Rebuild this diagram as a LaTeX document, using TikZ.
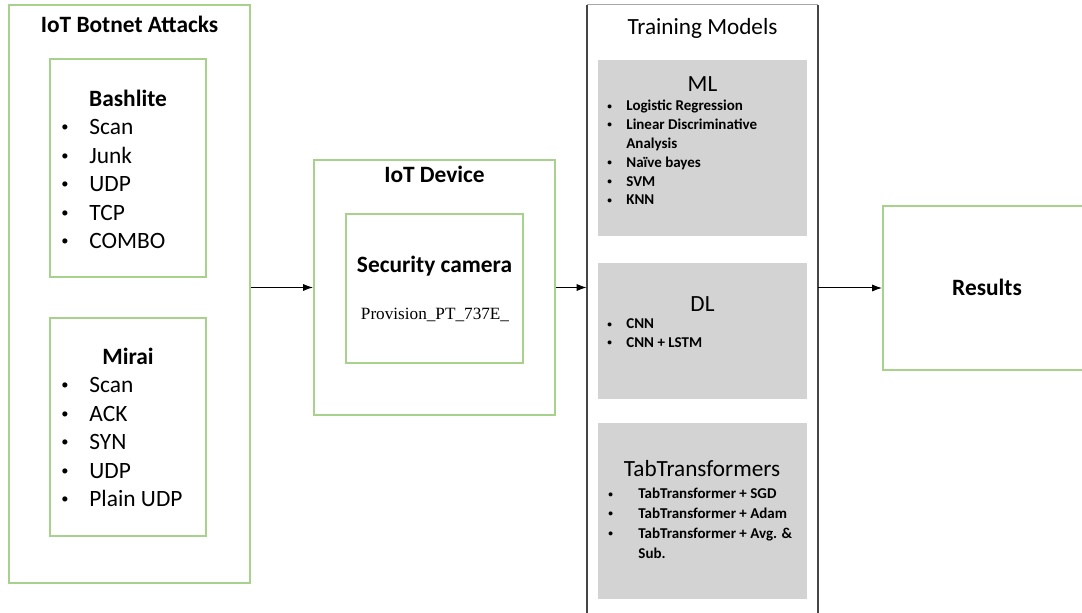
\documentclass[tikz,border=0pt]{standalone}
\usepackage{fontspec}
\setmainfont{Carlito}
\newfontfamily\provfont{Liberation Serif}
\usetikzlibrary{arrows.meta,fit}
\tikzset{>={Latex[length=5pt,width=3.6pt]}}
\definecolor{boxgreen}{HTML}{A9D18E}
\definecolor{modelgray}{HTML}{D3D3D3}
\definecolor{framedark}{HTML}{454545}
\definecolor{framelight}{HTML}{A6A6A6}
\newcommand{\dotmark}{\raisebox{0.13em}{\scalebox{0.62}{\textbullet}}}

\begin{document}
\begin{tikzpicture}[x=0.5pt,y=-0.5pt,
  greenbox/.style={draw=boxgreen,line width=1pt,inner sep=0pt},
  graybox/.style={fill=modelgray,inner sep=0pt},
  head/.style={font=\fontsize{11.7}{14}\selectfont\bfseries,anchor=base,inner sep=0pt},
  modelhead/.style={font=\fontsize{11.6}{14}\selectfont,anchor=base,inner sep=0pt},
  biglist/.style={font=\fontsize{11.7}{14.2}\selectfont,anchor=base west,inner sep=0pt},
  smalllist/.style={font=\fontsize{7.5}{9.4}\selectfont\bfseries,anchor=base west,inner sep=0pt},
  link/.style={->,line width=0.5pt}]
\useasboundingbox (0,0) rectangle (1082,613);

% attacks
\node[greenbox,fit={(9,5) (250,583)}] (botnet) {};
\node[head] (botnettitle) at (129.5,33) {IoT Botnet Attacks};
\node[greenbox,fit={(50,59) (206,277)}] (bashlite) {};
\node[head] (bashtitle) at (128,107) {Bashlite};
\node[biglist] (bashitems) at (61,135) {\begin{tabular}[t]{@{}p{14pt}@{}l@{}}
\dotmark & Scan\\ \dotmark & Junk\\ \dotmark & UDP\\ \dotmark & TCP\\ \dotmark & COMBO
\end{tabular}};
\node[greenbox,fit={(50,318) (206,536)}] (mirai) {};
\node[head] (miraititle) at (128,365) {Mirai};
\node[biglist] (miraiitems) at (61,393) {\begin{tabular}[t]{@{}p{14pt}@{}l@{}}
\dotmark & Scan\\ \dotmark & ACK\\ \dotmark & SYN\\ \dotmark & UDP\\ \dotmark & Plain UDP
\end{tabular}};

% device
\node[greenbox,fit={(314,160) (555,415)}] (device) {};
\node[head] (devicetitle) at (434.5,183) {IoT Device};
\node[greenbox,fit={(346,214) (523,363)}] (camera) {};
\node[head] (cameratitle) at (434.5,273) {Security camera};
\node[anchor=base,inner sep=0pt,font=\provfont\fontsize{8.6}{10}\selectfont] (cameraid) at (435,320) {Provision\_PT\_737E\_};

% training models
\node[inner sep=0pt,fit={(587,5) (818,640)}] (train) {};
\draw[framelight,line width=0.8pt] (train.north west) -- (train.north east);
\draw[framedark,line width=1pt] (train.south west) -- (train.north west);
\draw[framedark,line width=1pt] (train.south east) -- (train.north east);
\node[modelhead] (traintitle) at (702.5,35) {Training Models};

\node[graybox,fit={(598,60) (807,236)}] (ml) {};
\node[modelhead] (mltitle) at (702.5,92) {ML};
\node[smalllist] (mlitems) at (607,111) {\begin{tabular}[t]{@{}p{9.5pt}@{}l@{}}
\dotmark & Logistic Regression\\ \dotmark & Linear Discriminative\\ & Analysis\\
\dotmark & Naïve bayes\\ \dotmark & SVM\\ \dotmark & KNN
\end{tabular}};

\node[graybox,fit={(598,263) (807,399)}] (dl) {};
\node[modelhead] (dltitle) at (702.5,312) {DL};
\node[smalllist] (dlitems) at (607,329) {\begin{tabular}[t]{@{}p{9.5pt}@{}l@{}}
\dotmark & CNN\\ \dotmark & CNN + LSTM
\end{tabular}};

\node[graybox,fit={(598,423) (807,599)}] (tab) {};
\node[modelhead] (tabtitle) at (702,477) {TabTransformers};
\node[smalllist,font=\fontsize{7.5}{9.85}\selectfont\bfseries] (tabitems) at (608,499) {\begin{tabular}[t]{@{}p{15pt}@{}l@{}}
\dotmark & TabTransformer + SGD\\ \dotmark & TabTransformer + Adam\\
\dotmark & TabTransformer + Avg. \&\\ & Sub.
\end{tabular}};

% results
\node[greenbox,fit={(883,206) (1091,370)}] (results) {};
\node[head] (resultstitle) at (987,296) {Results};

% flow
\draw[link] (botnet.east |- device.west) -- (device.west);
\draw[link] (device.east) -- (device.east -| train.west);
\draw[link] (train.east |- results.west) -- (results.west);
\end{tikzpicture}
\end{document}
